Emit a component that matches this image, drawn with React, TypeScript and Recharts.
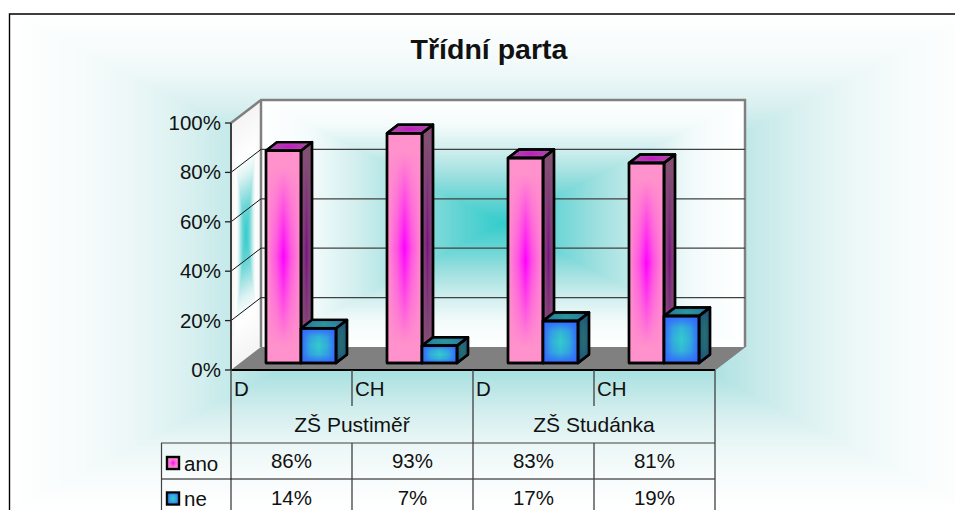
import { BarChart, Bar, XAxis, YAxis, CartesianGrid } from "recharts";

const categories = ["D", "CH", "D", "CH"];
const groups = ["ZŠ Pustiměř", "ZŠ Studánka"];
const anoValues = [86, 93, 83, 81];
const neValues = [14, 7, 17, 19];
const yTicks = [0, 20, 40, 60, 80, 100];

const data = categories.map((cat, i) => ({ cat, ano: anoValues[i], ne: neValues[i] }));

const FONT = "'Liberation Sans', Arial, sans-serif";
const WIDTH = 955;
const HEIGHT = 510;

// front plane of the 3D box
const LEFT = 231;
const RIGHT = 715;
const TOP = 123;
const BOTTOM = 370;
const WALL_DX = 30;
const WALL_DY = -23;
const BAR_DX = 9;
const BAR_DY = -7;
const DEPTH_X = 11;
const DEPTH_Y = -8.5;
const BAND = (RIGHT - LEFT) / categories.length;

type Stop = [number, string];

const bgStops: Stop[] = [[0, "#33cccc"], [0.44, "#a8e0e0"], [0.55, "#c6e9e9"], [0.65, "#dcf1f1"], [0.75, "#ecf7f7"], [0.85, "#f6fbfb"], [1, "#ffffff"]];
const wallStops: Stop[] = [[0, "#33cccc"], [0.2, "#66d4d4"], [0.4, "#a0e0e0"], [0.6, "#d0eeee"], [0.8, "#f4fbfb"], [1, "#ffffff"]];
const sideStops: Stop[] = [[0, "#33cccc"], [0.25, "#70d6d6"], [0.5, "#ddf3f3"], [0.65, "#ffffff"], [1, "#f4f4f4"]];

const hex = (s: string) => [1, 3, 5].map((i) => parseInt(s.slice(i, i + 2), 16));

const colorAt = (stops: Stop[], t: number) => {
  for (let i = 1; i < stops.length; i++) {
    if (t <= stops[i][0]) {
      const k = (t - stops[i - 1][0]) / (stops[i][0] - stops[i - 1][0]);
      const a = hex(stops[i - 1][1]);
      const b = hex(stops[i][1]);
      return `rgb(${a.map((v, j) => Math.round(v + (b[j] - v) * k)).join(",")})`;
    }
  }
  return stops[stops.length - 1][1];
};

// rectangular "path" gradient like the Excel fill, outside in
const PathFill = ({ corners, stops, steps }: { corners: number[][]; stops: Stop[]; steps: number }) => {
  const cx = corners.reduce((s, c) => s + c[0], 0) / corners.length;
  const cy = corners.reduce((s, c) => s + c[1], 0) / corners.length;
  const items = [];
  for (let i = steps; i > 0; i--) {
    const t = i / steps;
    const pts = corners.map((c) => `${cx + (c[0] - cx) * t},${cy + (c[1] - cy) * t}`).join(" ");
    items.push(<polygon key={i} points={pts} fill={colorAt(stops, t)} />);
  }
  return <g>{items}</g>;
};

const pinkColors = {
  face: ["#ff92cc", "#ff00ff"],
  side: ["#834e74", "#7a1284"],
  top: ["#a94aa4", "#cc10cc"],
};
const blueColors = {
  face: ["#3366ff", "#33cccc"],
  side: ["#1d4f80", "#266f70"],
  top: ["#2a659e", "#2a9a9c"],
};
const pinkGlow = Object.values(pinkColors).map((c) => c[1]);
const blueGlow = Object.values(blueColors).map((c) => c[1]);
const glowId = (c: string) => `glow-${c.slice(1)}`;

const Glow = ({ colors, children }: { colors: string[]; children: (fill: string, extra: any) => any }) => (
  <g>
    {children(colors[0], {})}
    {children(`url(#${glowId(colors[1])})`, {
      mask: blueGlow.includes(colors[1]) ? "url(#vmaskwide)" : "url(#vmask)",
      stroke: "none",
    })}
  </g>
);

const Bar3D = ({ x, y, width, height, colors }: any) => {
  if (!height) return null;
  const fx = x + BAR_DX;
  const fy = y + BAR_DY;
  const r = fx + width;
  const b = fy + height;
  const sw = { stroke: "#000", strokeWidth: 2.4, strokeLinejoin: "round" as const };
  const sidePts = `${r},${fy} ${r + DEPTH_X},${fy + DEPTH_Y} ${r + DEPTH_X},${b + DEPTH_Y} ${r},${b}`;
  const topPts = `${fx},${fy} ${fx + DEPTH_X},${fy + DEPTH_Y} ${r + DEPTH_X},${fy + DEPTH_Y} ${r},${fy}`;
  return (
    <g>
      <Glow colors={colors.side}>{(fill, extra) => <polygon points={sidePts} fill={fill} {...sw} {...extra} />}</Glow>
      <Glow colors={colors.top}>{(fill, extra) => <polygon points={topPts} fill={fill} {...sw} {...extra} />}</Glow>
      <Glow colors={colors.face}>{(fill, extra) => <rect x={fx} y={fy} width={width} height={height} fill={fill} {...sw} {...extra} />}</Glow>
      <polygon points={sidePts} fill="none" {...sw} />
      <polygon points={topPts} fill="none" {...sw} />
      <rect x={fx} y={fy} width={width} height={height} fill="none" {...sw} />
    </g>
  );
};

const GridLine = ({ x1, y1 }: any) => {
  if (Math.abs(y1 - TOP) < 1 || Math.abs(y1 - BOTTOM) < 1) return <g />;
  return (
    <g>
      <line x1={x1} y1={y1} x2={x1 + WALL_DX} y2={y1 + WALL_DY} stroke="#111" strokeWidth={1} />
      <line x1={x1 + WALL_DX} y1={y1 + WALL_DY} x2={RIGHT + WALL_DX} y2={y1 + WALL_DY} stroke="#404040" strokeWidth={1.3} />
    </g>
  );
};

const YTick = ({ x, y, payload }: any) => (
  <text x={x} y={y + 7} textAnchor="end" fontFamily={FONT} fontSize={20.5} fill="#111">
    {payload.value}%
  </text>
);

const lineColor = "#404040";
const ROW1 = 443;
const ROW2 = 479;

const Swatch = ({ y, colors }: { y: number; colors: string[] }) => (
  <Glow colors={colors}>
    {(fill, extra) => <rect x={167} y={y} width={12} height={12} fill={fill} stroke="#000" strokeWidth={2.4} {...extra} />}
  </Glow>
);

const TableTick = ({ x, y, index }: any) => {
  const left = x - BAND / 2;
  const right = x + BAND / 2;
  const even = index % 2 === 0;
  const textProps = { fontFamily: FONT, fontSize: 20.5, fill: "#111" };
  return (
    <g>
      <text x={left + 3} y={y + 26} {...textProps}>{categories[index]}</text>
      <line x1={left} y1={y} x2={left} y2={even ? HEIGHT : y + 36} stroke={lineColor} strokeWidth={1.3} />
      {!even && <line x1={left} y1={ROW1} x2={left} y2={HEIGHT} stroke={lineColor} strokeWidth={1.3} />}
      {index === categories.length - 1 && <line x1={right} y1={y} x2={right} y2={HEIGHT} stroke={lineColor} strokeWidth={1.3} />}
      {even && (
        <text x={right} y={432} textAnchor="middle" {...textProps} fontSize={21}>{groups[index / 2]}</text>
      )}
      <text x={x} y={468} textAnchor="middle" {...textProps}>{anoValues[index]}%</text>
      <text x={x} y={505} textAnchor="middle" {...textProps}>{neValues[index]}%</text>
      {index === 0 && (
        <g>
          <line x1={161} y1={ROW1} x2={RIGHT} y2={ROW1} stroke={lineColor} strokeWidth={1.2} />
          <line x1={161} y1={ROW2} x2={RIGHT} y2={ROW2} stroke="#111" strokeWidth={1.2} />
          <line x1={161.5} y1={ROW1} x2={161.5} y2={HEIGHT} stroke={lineColor} strokeWidth={1.2} />
          <Swatch y={457} colors={pinkColors.face} />
          <Swatch y={492.5} colors={blueColors.face} />
          <text x={184} y={471} {...textProps}>ano</text>
          <text x={184} y={506} {...textProps}>ne</text>
        </g>
      )}
    </g>
  );
};

const Backdrop = () => {
  const backL = LEFT + WALL_DX;
  const backR = RIGHT + WALL_DX;
  const backT = TOP + WALL_DY;
  const backB = BOTTOM + WALL_DY;
  return (
    <svg width={WIDTH} height={HEIGHT} style={{ position: "absolute", left: 0, top: 0 }}>
      <defs>
        {pinkGlow.map((c) => (
          <linearGradient key={c} id={glowId(c)} x1="0" y1="0" x2="1" y2="0">
            <stop offset="0" stopColor={c} stopOpacity={0} />
            <stop offset="0.3" stopColor={c} stopOpacity={0.45} />
            <stop offset="0.5" stopColor={c} stopOpacity={1} />
            <stop offset="0.7" stopColor={c} stopOpacity={0.45} />
            <stop offset="1" stopColor={c} stopOpacity={0} />
          </linearGradient>
        ))}
        {blueGlow.map((c) => (
          <linearGradient key={c} id={glowId(c)} x1="0" y1="0" x2="1" y2="0">
            <stop offset="0" stopColor={c} stopOpacity={0} />
            <stop offset="0.25" stopColor={c} stopOpacity={0.7} />
            <stop offset="0.5" stopColor={c} stopOpacity={1} />
            <stop offset="0.75" stopColor={c} stopOpacity={0.7} />
            <stop offset="1" stopColor={c} stopOpacity={0} />
          </linearGradient>
        ))}
        <linearGradient id="vfade" x1="0" y1="0" x2="0" y2="1">
          <stop offset="0.08" stopColor="#000" />
          <stop offset="0.3" stopColor="#888" />
          <stop offset="0.5" stopColor="#fff" />
          <stop offset="0.7" stopColor="#888" />
          <stop offset="0.92" stopColor="#000" />
        </linearGradient>
        <linearGradient id="vfadewide" x1="0" y1="0" x2="0" y2="1">
          <stop offset="0" stopColor="#000" />
          <stop offset="0.25" stopColor="#ccc" />
          <stop offset="0.5" stopColor="#fff" />
          <stop offset="0.75" stopColor="#ccc" />
          <stop offset="1" stopColor="#000" />
        </linearGradient>
        <mask id="vmask" maskContentUnits="objectBoundingBox" x="0" y="0" width="1" height="1">
          <rect x="0" y="0" width="1" height="1" fill="url(#vfade)" />
        </mask>
        <mask id="vmaskwide" maskContentUnits="objectBoundingBox" x="0" y="0" width="1" height="1">
          <rect x="0" y="0" width="1" height="1" fill="url(#vfadewide)" />
        </mask>
      </defs>
      <PathFill corners={[[10, 14], [975, 14], [975, 510], [10, 510]]} stops={bgStops} steps={160} />
      <PathFill corners={[[backL, backT], [backR, backT], [backR, backB], [backL, backB]]} stops={wallStops} steps={120} />
      <PathFill corners={[[LEFT, TOP], [backL, backT], [backL, backB], [LEFT, BOTTOM]]} stops={sideStops} steps={60} />
      <polygon points={`${LEFT},${BOTTOM} ${backL},${backB} ${backR},${backB} ${RIGHT},${BOTTOM}`} fill="#808080" />
      <polyline points={`${LEFT},${TOP} ${backL},${backT} ${backR},${backT} ${backR},${backB}`} fill="none" stroke="#808080" strokeWidth={2.5} />
      <line x1={backL} y1={backT} x2={backL} y2={backB} stroke="#808080" strokeWidth={2.5} />
      <line x1={RIGHT} y1={BOTTOM} x2={backR} y2={backB} stroke="#808080" strokeWidth={1} />
      <polyline points={`9.5,${HEIGHT} 9.5,14 ${WIDTH},14`} fill="none" stroke="#000" strokeWidth={1.4} />
      <text x={489} y={59} textAnchor="middle" fontFamily={FONT} fontWeight="bold" fontSize={28.5} fill="#111">
        Třídní parta
      </text>
    </svg>
  );
};

export default function App() {
  return (
    <div style={{ position: "absolute", left: 0, top: 0, width: WIDTH, height: HEIGHT, overflow: "hidden", background: "#fff" }}>
      <Backdrop />
      <div style={{ position: "absolute", left: 0, top: 0 }}>
        <BarChart
          width={WIDTH}
          height={HEIGHT}
          data={data}
          barSize={35}
          barGap={0}
          margin={{ top: TOP, left: LEFT - 60, right: WIDTH - RIGHT, bottom: 0 }}
        >
          <CartesianGrid horizontal={(p: any) => <GridLine key={p.key} {...p} />} vertical={false} />
          <XAxis
            dataKey="cat"
            height={HEIGHT - BOTTOM}
            interval={0}
            tickLine={false}
            tickSize={0}
            tickMargin={0}
            axisLine={{ stroke: "#000", strokeWidth: 2 }}
            tick={(p: any) => <TableTick {...p} />}
          />
          <YAxis
            width={60}
            domain={[0, 100]}
            ticks={yTicks}
            tickSize={6}
            tickMargin={4}
            tickLine={{ stroke: "#222", strokeWidth: 1.3 }}
            axisLine={{ stroke: "#404040", strokeWidth: 2 }}
            tick={(p: any) => <YTick {...p} />}
          />
          <Bar dataKey="ano" isAnimationActive={false} shape={(p: any) => <Bar3D {...p} colors={pinkColors} />} />
          <Bar dataKey="ne" isAnimationActive={false} shape={(p: any) => <Bar3D {...p} colors={blueColors} />} />
        </BarChart>
      </div>
    </div>
  );
}
